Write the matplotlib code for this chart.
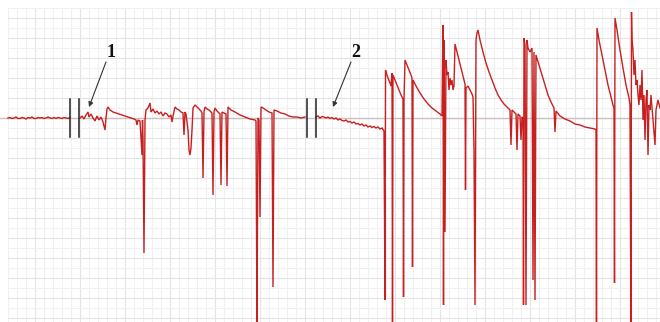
import numpy as np
import matplotlib
matplotlib.use("Agg")
import matplotlib.pyplot as plt

# trace before the first break (time in px units, signal in px units, down = larger)
pre_x = list(range(8, 72, 2))
pre_y = [118, 117.5, 118.5, 118, 117, 118.5, 118.5, 117.5, 118, 119, 117.5, 118, 117, 118.5,
         118.5, 117.5, 118, 117.5, 118.5, 118, 117, 118, 118.5, 117.5, 118.5, 117.5, 118, 118.5,
         117.5, 118, 118.5, 117.5]

# trace between break 1 and break 2
mid_x = [80, 82, 84, 86, 88, 89, 91, 93, 95, 97, 99, 101, 103, 105, 106, 107, 108, 110,
         113, 116, 119, 122, 125, 128, 131, 134, 136, 137, 138, 140, 142, 142.5, 143, 144,
         145, 146, 148, 150, 151, 153, 155, 157, 159, 161, 163, 165, 167, 169, 171, 172,
         173, 175, 177, 179, 181, 183, 184, 185, 186, 188, 189, 190, 191, 192, 193, 195,
         197, 199, 201, 202, 203, 204, 205, 207, 209, 211, 212, 213, 214, 215, 217, 219,
         220, 221, 222, 224, 226, 227, 228, 231, 235, 240, 245, 250, 255, 256, 257, 258,
         259, 260, 261, 263, 266, 269, 272, 273, 274, 277, 281, 285, 289, 293, 297, 301, 305]
mid_y = [118, 116, 119, 115, 112, 117, 114, 118, 121, 116, 120, 117, 122, 130, 118, 109, 107, 110,
         112, 113, 114, 115, 116, 117, 118, 119, 120, 125, 120, 121, 155, 120, 140, 253,
         120, 110, 108, 103, 112, 109, 113, 111, 114, 112, 116, 113, 114, 117, 115, 122,
         116, 107, 109, 110, 112, 113, 135, 112, 114, 130, 150, 155, 148, 130, 108, 105,
         107, 109, 111, 113, 178, 112, 107, 109, 110, 112, 113, 195, 112, 108, 111, 113,
         114, 185, 112, 113, 114, 186, 107, 110, 112, 115, 117, 119, 120, 121, 330, 118,
         120, 217, 107, 108, 110, 112, 113, 287, 110, 111, 113, 114, 116, 117, 117, 118, 117]

# trace after break 2
post_x = [316, 318, 320, 322, 324, 326, 328, 330, 332, 334, 336, 338, 340, 342, 344, 346,
          348, 350, 352, 354, 356, 358, 360, 362, 364, 366, 368, 370, 372, 374, 376, 378,
          380, 382, 384, 385, 385.5, 386, 388, 390, 391, 392, 392.5, 393, 395, 397, 399,
          401, 403, 403.5, 404, 405, 407, 409, 411, 412, 412.5, 413, 416, 420, 424, 428,
          432, 436, 440, 442, 443, 443.5, 444, 445, 446, 447, 448, 449, 450, 451, 452, 453,
          454, 455, 457, 459, 461, 463, 465, 465.5, 466, 468, 470, 472, 473, 474, 475, 476,
          477, 478, 480, 483, 486, 489, 492, 495, 498, 501, 504, 507, 510, 511, 512, 514,
          516, 517, 518, 520, 521, 522, 523, 523.5, 524, 525, 526, 527, 528, 530, 532, 533,
          534, 535, 536, 539, 542, 545, 548, 551, 554, 555, 556, 560, 565, 570, 575, 580,
          585, 590, 595, 596, 596.5, 597, 599, 602, 605, 608, 611, 613, 614, 614.5, 615,
          617, 620, 623, 626, 629, 630, 631, 631.5, 632, 633, 634, 635, 636, 637, 638, 639,
          640, 641, 642, 643, 644, 645, 646, 647, 648, 649, 650, 651, 653, 655, 656, 658, 660]
post_y = [117, 116, 118, 116.5, 117, 118, 117, 118.5, 117.5, 119, 118, 120, 119, 120.5, 121, 120,
          122, 121.5, 123, 122, 124, 123.5, 125, 124, 126, 125, 127, 126, 127.5, 126.5, 128, 127,
          129, 128, 131, 300, 70, 72, 78, 83, 86, 73, 325, 75, 80, 85, 90,
          95, 99, 297, 100, 60, 65, 70, 75, 78, 267, 80, 86, 93, 99, 104,
          108, 111, 114, 116, 25, 305, 40, 232, 60, 75, 72, 90, 78, 85, 80, 90,
          86, 44, 52, 60, 68, 76, 84, 190, 88, 86, 90, 94, 97, 150, 305, 40,
          33, 30, 40, 52, 63, 72, 80, 88, 95, 100, 104, 107, 110, 145, 110, 112,
          114, 150, 114, 116, 140, 117, 118, 305, 38, 45, 305, 40, 48, 52, 48, 280,
          52, 300, 55, 65, 75, 85, 95, 102, 108, 132, 111, 116, 119, 121, 124, 125,
          127, 128, 129, 130, 330, 28, 40, 55, 70, 85, 97, 105, 108, 283, 18,
          30, 50, 68, 85, 98, 105, 330, 12, 40, 50, 75, 60, 85, 80, 95, 105,
          85, 100, 70, 120, 95, 140, 100, 90, 155, 105, 110, 95, 120, 145, 110, 100, 108]

breaks_x = [70, 79, 307, 316]
labels = ["1", "2"]
label_pos = [(111, 52), (356, 52)]
arrow_tips = [(89, 107), (333, 107)]

fig = plt.figure(figsize=(6.6, 3.22), dpi=100)
ax = fig.add_axes([0, 0, 1, 1])
ax.set_xlim(0, 660)
ax.set_ylim(322, 0)
ax.axis("off")

# graph paper
for gx in np.arange(8, 661, 9):
    major = (gx - 8) % 45 == 27
    ax.axvline(gx, ymin=0, ymax=1 - 8 / 322, color="#e4e4e4" if major else "#f0f0f0", lw=0.8, zorder=0)
for gy in np.arange(8, 323, 10):
    major = (gy - 8) % 20 == 10
    ax.plot([8, 660], [gy, gy], color="#e4e4e4" if major else "#f0f0f0", lw=0.8, zorder=0)
ax.plot([0, 660], [118, 118], color="#cdbfbf", lw=1.0, zorder=1)

trace_kw = dict(color="#c82020", lw=1.0, zorder=3, solid_joinstyle="miter")
ax.plot(pre_x, pre_y, **trace_kw)
ax.plot(mid_x, mid_y, **trace_kw)
ax.plot(post_x, post_y, **trace_kw)

for bx in breaks_x:
    ax.plot([bx, bx], [99, 137], color="#222222", lw=1.1, zorder=4)

for lab, (lx, ly), (tx, ty) in zip(labels, label_pos, arrow_tips):
    ax.text(lx, ly, lab, ha="center", va="center", fontsize=13, fontweight="bold",
            family="Liberation Serif", color="#111111")
    ax.annotate("", xy=(tx, ty), xytext=(lx - 5, ly + 10),
                arrowprops=dict(arrowstyle="-|>", color="#333333", lw=0.8,
                                mutation_scale=7, shrinkA=0, shrinkB=0))

fig.savefig("out.png", dpi=100)
